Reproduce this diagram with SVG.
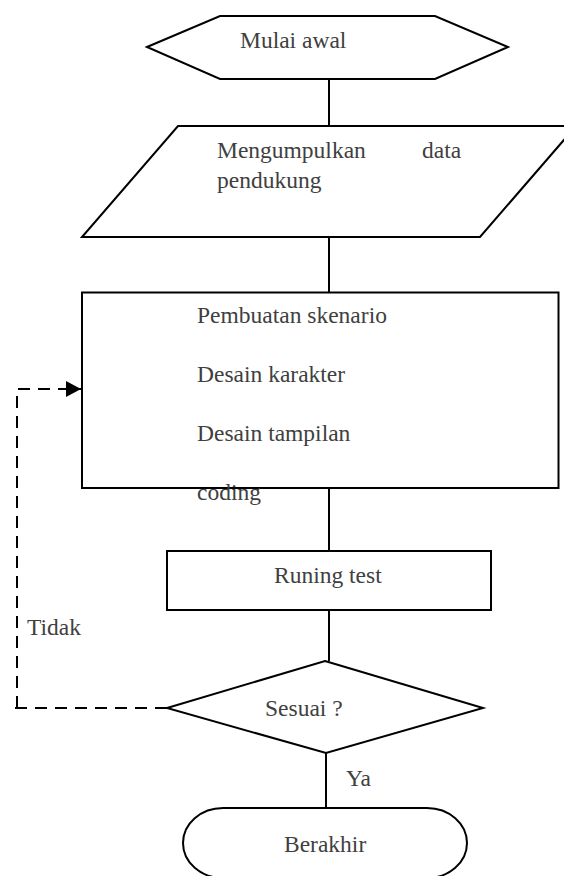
<svg xmlns="http://www.w3.org/2000/svg" width="564" height="876" viewBox="0 0 564 876">
<defs>
<style>
.shape{fill:#fff;stroke:#000;stroke-width:2}
.ln{fill:none;stroke:#000;stroke-width:2}
.dash{fill:none;stroke:#000;stroke-width:2;stroke-dasharray:12 8}
text{font-family:'Liberation Serif','DejaVu Serif',serif;font-size:23.5px;fill:#404040}
</style>
<marker id="arr" viewBox="0 0 15 16" refX="15" refY="8" markerWidth="15" markerHeight="16" markerUnits="userSpaceOnUse" orient="auto">
<path d="M0,0 L15,8 L0,16 Z" fill="#000"/>
</marker>
</defs>
<rect width="564" height="876" fill="#fff"/>
<g id="connectors">
<line class="ln" x1="329" y1="79" x2="329" y2="126"/>
<line class="ln" x1="329" y1="237" x2="329" y2="292"/>
<line class="ln" x1="329" y1="488" x2="329" y2="551"/>
<line class="ln" x1="329" y1="610" x2="329" y2="661"/>
<line class="ln" x1="326" y1="753" x2="326" y2="808"/>
<path class="dash" d="M167,708 H11 M17,708 V389 H81" marker-end="url(#arr)"/>
<text x="27" y="635">Tidak</text>
<text x="346" y="786">Ya</text>
</g>
<g id="start">
<polygon class="shape" points="147,47 220,16 435,16 508,47 435,79 220,79"/>
<text x="240" y="48">Mulai awal</text>
</g>
<g id="collect">
<polygon class="shape" points="178,126 576,126 480,237 82,237"/>
<text x="217" y="158">Mengumpulkan<tspan x="422">data</tspan></text>
<text x="217" y="188">pendukung</text>
</g>
<g id="process">
<rect class="shape" x="82" y="292.5" width="476.5" height="195.5"/>
<text x="197" y="323">Pembuatan skenario</text>
<text x="197" y="382">Desain karakter</text>
<text x="197" y="441">Desain tampilan</text>
<text x="197" y="500">coding</text>
</g>
<g id="test">
<rect class="shape" x="167" y="551" width="324" height="59"/>
<text x="274" y="583">Runing test</text>
</g>
<g id="decision">
<polygon class="shape" points="325,661 483,708 326,753 167,708"/>
<text x="265" y="716">Sesuai ?</text>
</g>
<g id="end">
<path class="shape" d="M223,808 H427 A40,35 0 0 1 427,878 H223 A40,35 0 0 1 223,808 Z"/>
<text x="284" y="852">Berakhir</text>
</g>
</svg>
